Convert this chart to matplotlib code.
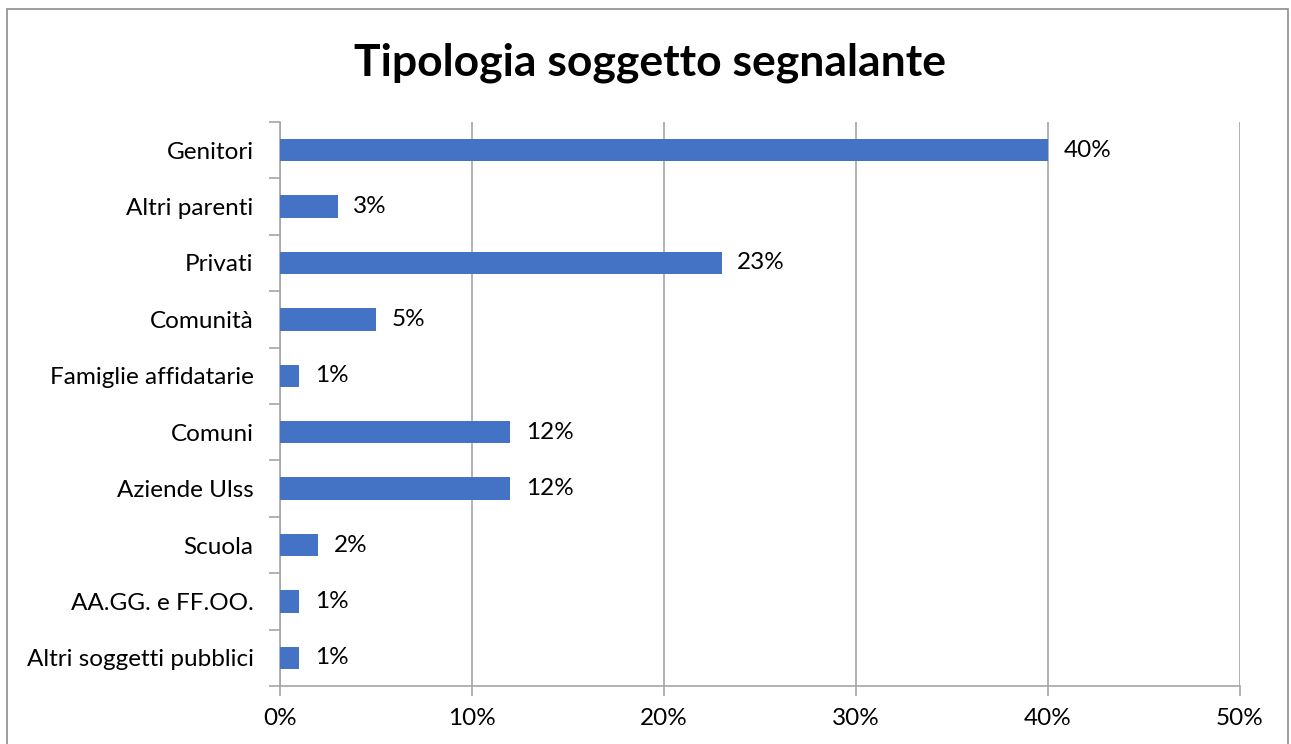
import matplotlib.pyplot as plt
from matplotlib.patches import Rectangle
from matplotlib.ticker import FuncFormatter, FixedLocator

plt.rcParams['font.family'] = ['Lato', 'DejaVu Sans']

categories = ['Genitori', 'Altri parenti', 'Privati', 'Comunità', 'Famiglie affidatarie',
              'Comuni', 'Aziende Ulss', 'Scuola', 'AA.GG. e FF.OO.', 'Altri soggetti pubblici']
values = [40, 3, 23, 5, 1, 12, 12, 2, 1, 1]
xticks = [0, 10, 20, 30, 40, 50]

BAR = '#4472C4'
GRID = '#A6A6A6'
FS = 17.5

fig = plt.figure(figsize=(12.91, 7.44), dpi=100)
ax = fig.add_axes([280 / 1291, 1 - 686 / 744, 960 / 1291, 564 / 744])

n = len(categories)
ypos = list(range(n))[::-1]
ax.barh(ypos, values, height=0.4, color=BAR, zorder=3)
for y, v in zip(ypos, values):
    ax.text(v + 0.8, y, f'{v}%', va='center', ha='left', fontsize=FS, color='#000000')

ax.set_xlim(0, 50)
ax.set_ylim(-0.5, n - 0.5)
ax.set_xticks(xticks)
ax.xaxis.set_major_formatter(FuncFormatter(lambda v, p: f'{v:.0f}%'))
ax.grid(axis='x', color=GRID, linewidth=1.2, zorder=0)

# category labels centred, tick marks at boundaries
ax.set_yticks(ypos)
ax.set_yticklabels(categories)
ax.yaxis.set_minor_locator(FixedLocator([i - 0.5 for i in range(n + 1)]))
ax.tick_params(axis='y', which='major', length=0, pad=19, labelsize=FS)
ax.tick_params(axis='y', which='minor', length=8, width=1.2, color=GRID)
ax.tick_params(axis='x', length=7, width=1.2, color=GRID, labelsize=FS, pad=9)

for s in ['top', 'right']:
    ax.spines[s].set_visible(False)
for s in ['left', 'bottom']:
    ax.spines[s].set_color(GRID)
    ax.spines[s].set_linewidth(1.2)

fig.text(650 / 1291, 1 - 63 / 744, 'Tipologia soggetto segnalante', ha='center', va='center',
         fontsize=32, fontweight='bold')

fig.patches.append(Rectangle((7 / 1291, -0.01), 1281 / 1291, 1 - 9 / 744 + 0.01,
                             transform=fig.transFigure, fill=False, edgecolor='#8C8C8C',
                             linewidth=1.2))

fig.savefig('out.png', dpi=100)
